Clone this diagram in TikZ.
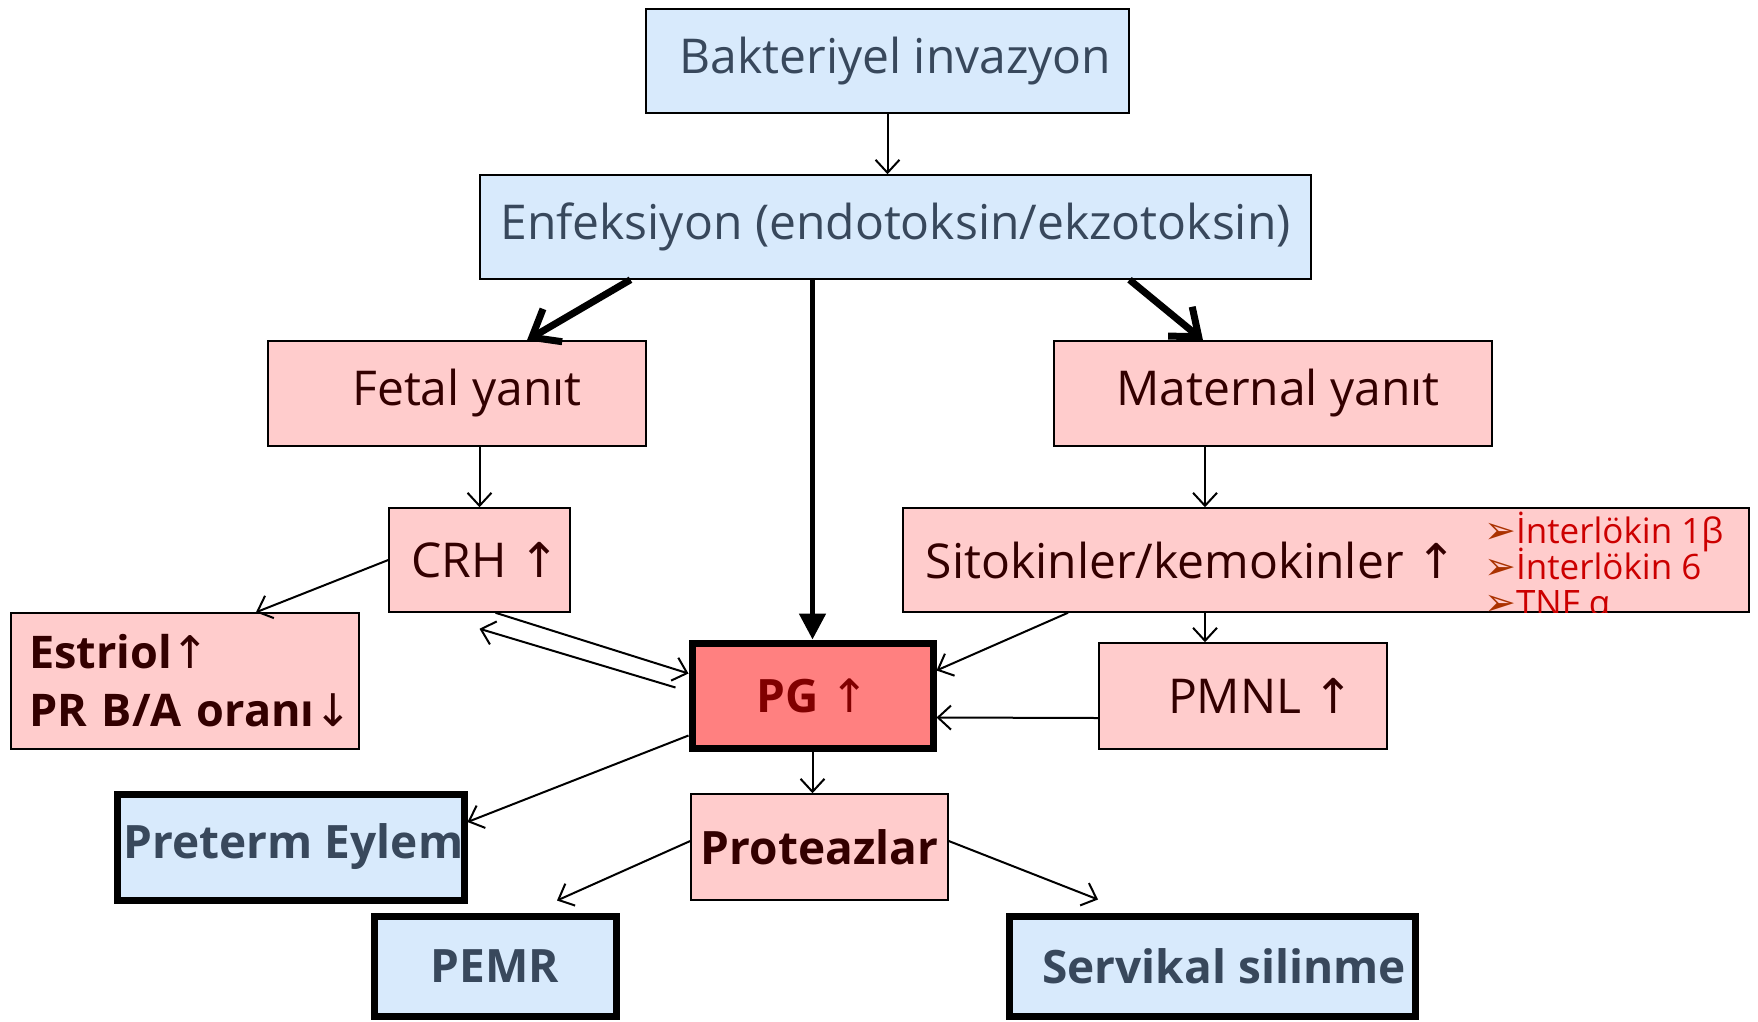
\documentclass[tikz,border=0pt]{standalone}
\usepackage{fontspec}
\setmainfont{Open Sans}
\newfontfamily\arrowfont{DejaVu Sans}
\usetikzlibrary{arrows.meta}

\definecolor{boxblue}{RGB}{216,234,252}
\definecolor{boxpink}{RGB}{255,204,204}
\definecolor{pgred}{RGB}{255,128,128}
\definecolor{txtslate}{RGB}{56,72,92}
\definecolor{txtmaroon}{RGB}{51,0,0}
\definecolor{txtdarkred}{RGB}{128,0,0}
\definecolor{listred}{RGB}{204,0,0}
\definecolor{bulletbrown}{RGB}{170,50,0}

\newcommand{\uparr}{{\arrowfont\fontseries{m}\selectfont ↑}}
\newcommand{\downarr}{{\arrowfont\fontseries{m}\selectfont ↓}}
\newcommand{\listbul}{{\arrowfont\fontsize{38}{36}\selectfont\color{bulletbrown}➢}}
\newcommand{\tightlines}{\lineskiplimit=-60pt\relax}

\begin{document}
\begin{tikzpicture}[x=1pt, y=-1pt,
    box/.style={draw, line width=1.5pt, inner sep=0pt, font=\fontsize{48}{56}\selectfont},
    bluebox/.style={box, fill=boxblue, text=txtslate},
    pinkbox/.style={box, fill=boxpink, text=txtmaroon},
    boldtext/.style={font=\fontsize{46}{54}\selectfont\bfseries},
    endbox/.style={bluebox, line width=7pt, boldtext},
    arr/.style={-{Straight Barb[length=13pt,width=24pt]}, line width=2pt},
    bigarr/.style={-{Straight Barb[length=24pt,width=38pt]}, line width=7pt}]
        \useasboundingbox (0,0) rectangle (1758,1021);

        \node[bluebox, minimum width=483pt, minimum height=104pt] (bak) at (887.5,61) {\hspace*{16pt}Bakteriyel invazyon};
        \node[bluebox, minimum width=831pt, minimum height=104pt] (enf) at (895.5,227) {Enfeksiyon (endotoksin/ekzotoksin)};
        \node[pinkbox, minimum width=378pt, minimum height=105pt] (fetal) at (457,393.5) {\hspace*{20pt}Fetal yanıt};
        \node[pinkbox, minimum width=438pt, minimum height=105pt] (mat) at (1273,393.5) {\hspace*{10pt}Maternal yanıt};
        \node[pinkbox, minimum width=181pt, minimum height=104pt] (crh) at (479.5,560) {\hspace*{12pt}CRH \uparr};
        \node[pinkbox, minimum width=846pt, minimum height=104pt,
              label={[name=sitotext, anchor=west, xshift=20pt, text=txtmaroon, font=\fontsize{48}{56}\selectfont]west:Sitokinler/kemokinler \uparr}] (sito) at (1326,560) {};
        \node[pinkbox, minimum height=136pt, inner xsep=18pt, text width=312pt, align=left,
              font=\fontsize{45}{58}\selectfont\bfseries] (estriol) at (185,681) {Estriol\uparr\\\mbox{PR B/A oranı\downarr}};
        \node[box, fill=pgred, text=txtdarkred, line width=7pt, minimum width=241pt, minimum height=105pt,
              boldtext] (pg) at (812.5,695.5) {PG \uparr};
        \node[pinkbox, minimum width=288pt, minimum height=106pt] (pmnl) at (1243,696) {\hspace*{36pt}PMNL \uparr};
        \node[pinkbox, minimum width=257pt, minimum height=106pt, boldtext] (prot) at (819.5,847) {Proteazlar};
        \node[endbox, minimum width=347pt, minimum height=106pt] (pre) at (290.5,847) {\hspace*{6pt}Preterm Eylem};
        \node[endbox, minimum width=242pt, minimum height=100pt] (pemr) at (495,966) {PEMR};
        \node[endbox, minimum width=406pt, minimum height=100pt] (serv) at (1212,966) {\hspace*{24pt}Servikal silinme};

        % sitokin listesi, kutuya kirpilmis
        \begin{scope}
          \clip (sito.north west) rectangle (sito.south east);
          \node[anchor=base west, inner sep=0pt, align=left, text=listred,
                font=\fontsize{35}{36}\selectfont\tightlines] (list) at (1484,615)
                {\listbul İnterlökin 1β\\\listbul İnterlökin 6\\\listbul TNF α};
        \end{scope}

        \draw[arr] (bak) -- (bak |- enf.north);
        \draw[bigarr] ([xshift=-265pt]enf.south) -- ([xshift=70pt]fetal.north);
        \draw[-{Triangle[length=26pt,width=26pt]}, line width=5pt] (enf.south -| pg) -- (pg.north);
        \draw[bigarr] ([xshift=234pt]enf.south) -- ([xshift=-70pt]mat.north);

        \draw[arr] (fetal.south -| crh) -- (crh.north);
        \draw[arr] ([xshift=-68pt]mat.south) -- ([xshift=-121pt]sito.north);

        \draw[arr] (crh.west) -- ([xshift=71pt]estriol.north);
        \draw[arr] ([xshift=16pt]crh.south) -- ([yshift=22pt]pg.west);
        \draw[arr] ([xshift=-13pt,yshift=8pt]pg.west) -- ([yshift=-16pt]crh.south);
        \draw[arr] ([xshift=-258pt]sito.south) -- ([yshift=25pt]pg.east);
        \draw[arr] ([xshift=-121pt]sito.south) -- ([xshift=-38pt]pmnl.north);
        \draw[arr] ([yshift=-22pt]pmnl.west) -- ([yshift=-22pt]pg.east);

        \draw[arr] ([yshift=-40pt]pg.west) -- ([yshift=25pt]pre.east);
        \draw[arr] (pg.south) -- (prot.north -| pg);
        \draw[arr] ([yshift=6pt]prot.west) -- ([xshift=62pt,yshift=12pt]pemr.north);
        \draw[arr] ([yshift=6pt]prot.east) -- ([xshift=-114pt,yshift=13pt]serv.north);

      \end{tikzpicture}
\end{document}
